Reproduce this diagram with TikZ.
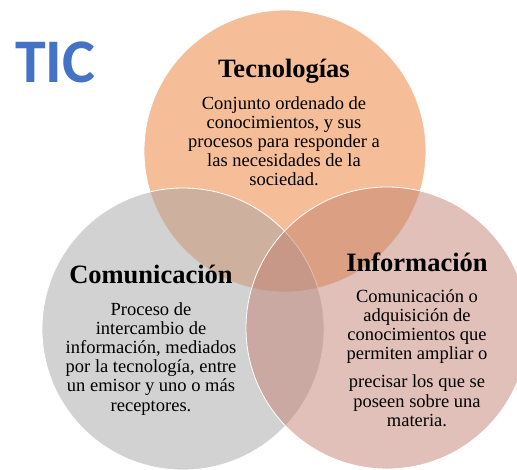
\documentclass[tikz,border=0pt]{standalone}
\usepackage{fontspec}
\setmainfont{Liberation Serif}
\newfontfamily\ticfont{Carlito}
\usepackage{xcolor}
\usetikzlibrary{positioning}

\definecolor{tecorange}{HTML}{ED7D31}
\definecolor{comgray}{HTML}{A5A5A5}
\definecolor{infrose}{HTML}{C18171}
\definecolor{ticblue}{HTML}{4472C4}

\begin{document}
\begin{tikzpicture}[x=1pt,y=-1pt,
    venn/.style={circle,draw=white,line width=0.8pt,fill opacity=0.5,
      minimum size=282pt,inner sep=0pt},
    heading/.style={anchor=base,inner sep=0pt,
      font=\fontsize{26.5}{30}\selectfont\bfseries},
    body/.style={anchor=north,inner sep=0pt,align=center,
      font=\fontsize{18.5}{19.2}\selectfont}]
    \useasboundingbox (0,0) rectangle (517,469);

    % the three sets
    \node [venn,fill=tecorange] (tec) at (285,151) {};
    \node [venn,fill=comgray] (com) at (183,329) {};
    \node [venn,fill=infrose] (inf) at (387,328) {};

    % title
    \node [anchor=base west,inner sep=0pt,text=ticblue,
      font=\ticfont\fontsize{62}{62}\selectfont\bfseries] (tic) at (15,82) {TIC};

    \node [heading] (techead) at (284,77) {Tecnologías};
    \node [body] (tectext) at (284,96) {Conjunto ordenado de\\conocimientos, y sus\\procesos para responder a\\las necesidades de la\\sociedad.};

    \node [heading] (comhead) at (151,283) {Comunicación};
    \node [body] (comtext) at (151,302) {Proceso de\\intercambio de\\información, mediados\\por la tecnología, entre\\un emisor y uno o más\\receptores.};

    \node [heading] (infhead) at (417,271) {Información};
    \node [body] (inftext) at (417,289) {Comunicación o\\adquisición de\\conocimientos que\\permiten ampliar o\\[9pt]precisar los que se\\poseen sobre una\\materia.};
\end{tikzpicture}
\end{document}
